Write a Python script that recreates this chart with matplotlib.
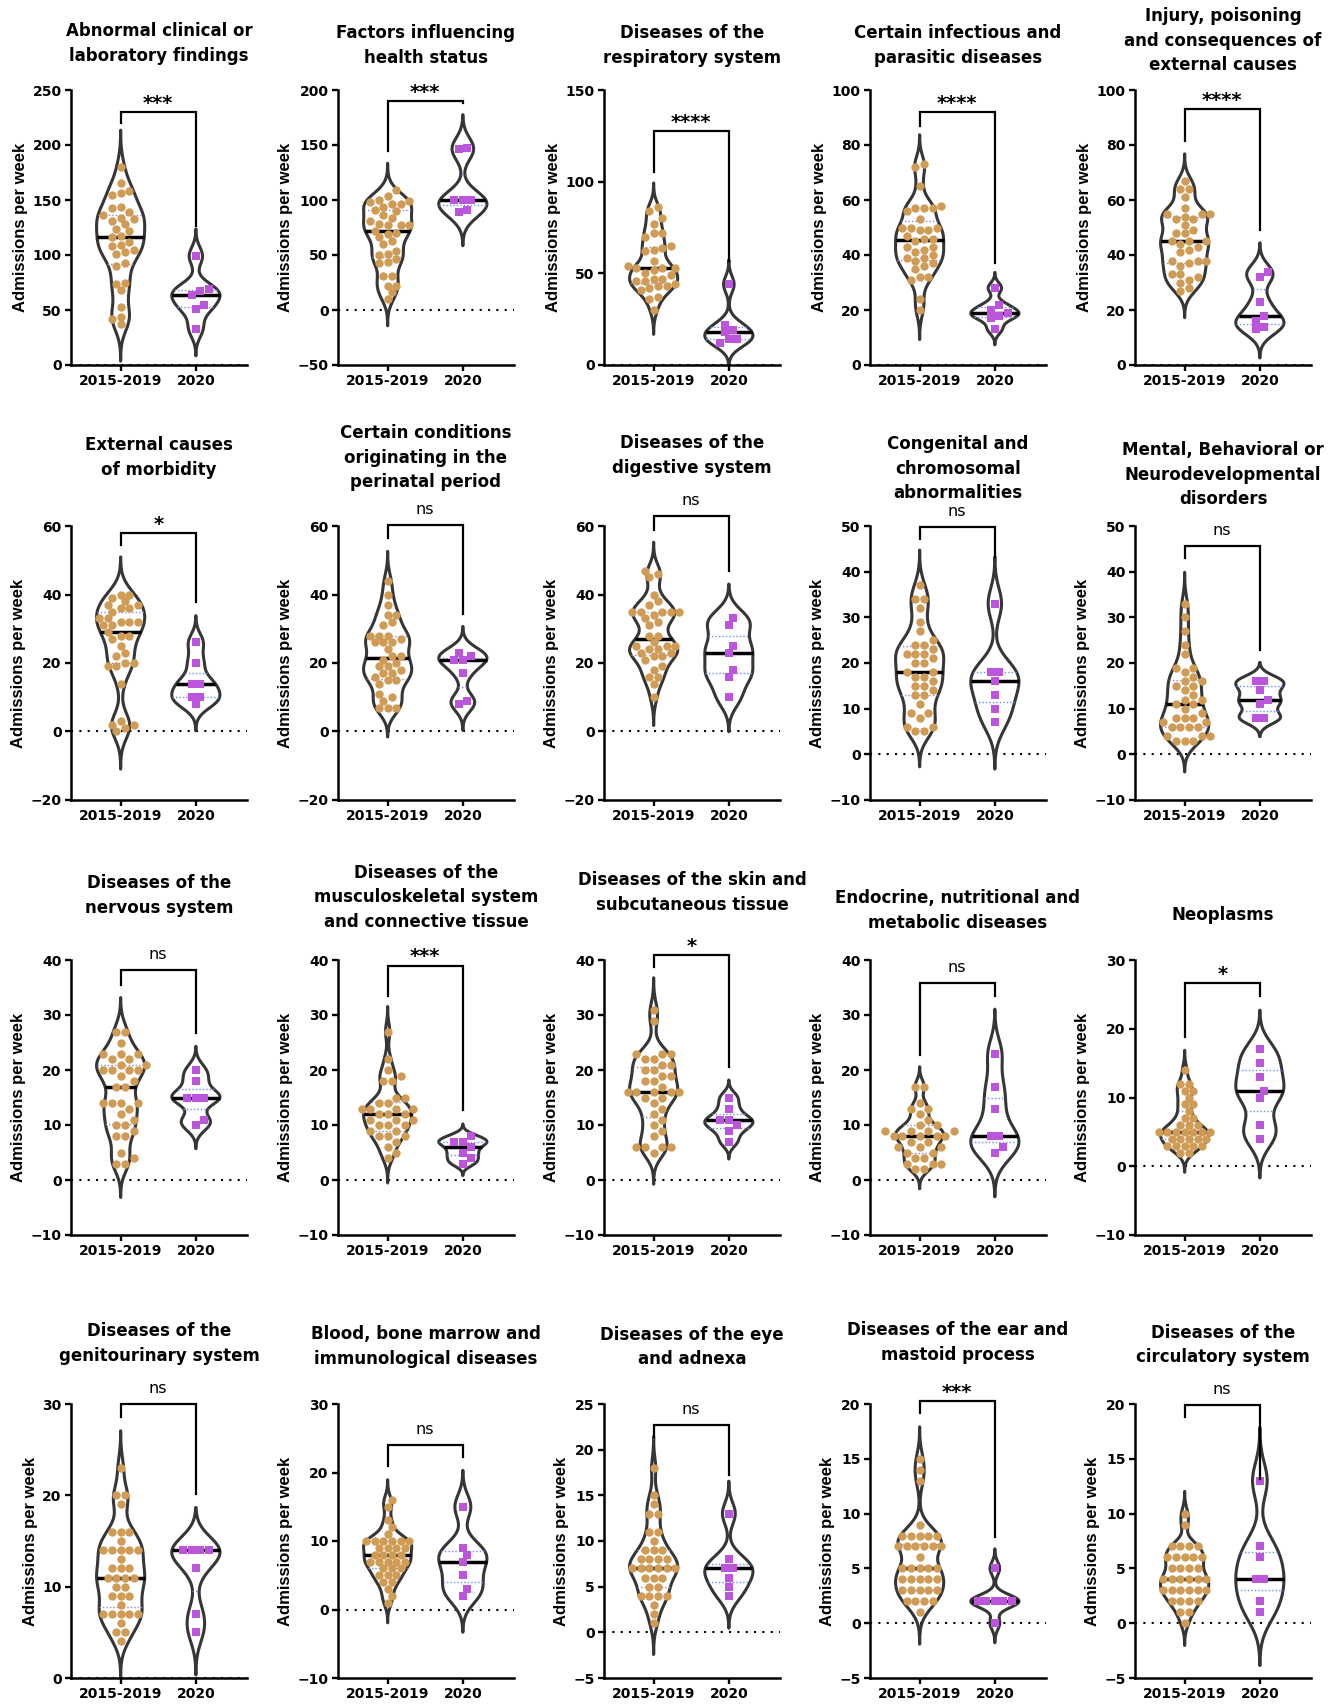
import numpy as np
import matplotlib
matplotlib.use("Agg")
import matplotlib.pyplot as plt
from matplotlib.font_manager import FontProperties

# ---------------- data (admissions per week) ----------------
groups = ["2015-2019", "2020"]

titles = [
    "Abnormal clinical or\nlaboratory findings",
    "Factors influencing\nhealth status",
    "Diseases of the\nrespiratory system",
    "Certain infectious and\nparasitic diseases",
    "Injury, poisoning\nand consequences of\nexternal causes",
    "External causes\nof morbidity",
    "Certain conditions\noriginating in the\nperinatal period",
    "Diseases of the\ndigestive system",
    "Congenital and\nchromosomal\nabnormalities",
    "Mental, Behavioral or\nNeurodevelopmental\ndisorders",
    "Diseases of the\nnervous system",
    "Diseases of the\nmusculoskeletal system\nand connective tissue",
    "Diseases of the skin and\nsubcutaneous tissue",
    "Endocrine, nutritional and\nmetabolic diseases",
    "Neoplasms",
    "Diseases of the\ngenitourinary system",
    "Blood, bone marrow and\nimmunological diseases",
    "Diseases of the eye\nand adnexa",
    "Diseases of the ear and\nmastoid process",
    "Diseases of the\ncirculatory system",
]

significance = ["***", "***", "****", "****", "****",
                "*", "ns", "ns", "ns", "ns",
                "ns", "***", "*", "ns", "*",
                "ns", "ns", "ns", "***", "ns"]

abnormal_1519 = [180, 165, 158, 156, 155, 144, 143, 139, 136, 134, 133, 131, 128, 124, 122, 117,
                 116, 112, 109, 108, 105, 103, 101, 93, 90, 74, 75, 68, 53, 44, 42, 37]
abnormal_2020 = [99, 67, 69, 64, 55, 51, 33]
factors_1519 = [109, 104, 100, 99, 98, 96, 96, 94, 91, 90, 86, 84, 81, 78, 77, 77, 77, 72, 70, 69,
                66, 63, 60, 54, 51, 50, 46, 44, 43, 31, 31, 22, 22, 16, 10]
factors_2020 = [147, 146, 100, 100, 100, 89, 91]
resp_1519 = [86, 84, 80, 77, 72, 72, 70, 65, 64, 63, 62, 57, 54, 53, 53, 53, 52, 50, 49, 47, 46,
             47, 46, 44, 43, 43, 42, 41, 37, 36, 30]
resp_2020 = [44, 19, 14, 22, 18, 14, 12]
infect_1519 = [73, 72, 65, 58, 57, 57, 57, 56, 53, 50, 50, 50, 49, 49, 47, 46, 46, 45, 43, 43, 41,
               42, 40, 39, 39, 38, 37, 36, 35, 32, 32, 31, 24, 20]
infect_2020 = [28, 22, 20, 19, 17, 18, 13]
injury_1519 = [67, 64, 64, 61, 57, 55, 55, 55, 54, 53, 53, 51, 49, 48, 48, 45, 45, 45, 44, 43, 42,
               41, 38, 38, 38, 37, 36, 33, 33, 32, 31, 30, 28, 27]
injury_2020 = [34, 32, 23, 18, 16, 14, 13]
extmorb_1519 = [40, 40, 39, 38, 37, 37, 36, 36, 35, 33, 33, 32, 32, 32, 31, 31, 29, 28, 28, 27, 25,
                23, 22, 20, 20, 19, 19, 14, 3, 2, 2, 1, 0]
extmorb_2020 = [26, 20, 14, 14, 10, 10, 8]
perinatal_1519 = [44, 40, 37, 34, 34, 32, 31, 28, 28, 28, 27, 26, 26, 26, 24, 22, 22, 21, 20, 19,
                  19, 18, 17, 17, 16, 15, 15, 14, 11, 10, 9, 7, 7, 7]
perinatal_2020 = [22, 21, 23, 21, 17, 8, 9]
digest_1519 = [47, 46, 45, 40, 38, 37, 35, 35, 35, 35, 35, 34, 33, 32, 31, 28, 28, 26, 25, 25, 25,
               24, 24, 23, 23, 22, 22, 21, 19, 18, 16, 16, 14, 10]
digest_2020 = [33, 31, 25, 23, 18, 16, 10]
congen_1519 = [37, 34, 34, 32, 29, 27, 25, 24, 24, 23, 22, 22, 22, 21, 20, 20, 18, 18, 17, 17, 16,
               15, 15, 14, 13, 13, 11, 9, 9, 8, 6, 6, 5, 5]
congen_2020 = [33, 18, 18, 16, 13, 10, 7]
mental_1519 = [33, 30, 27, 24, 22, 19, 19, 18, 17, 16, 16, 15, 15, 14, 13, 12, 12, 11, 11, 10, 9,
               8, 8, 8, 7, 7, 6, 6, 6, 6, 4, 4, 4, 3, 3, 3]
mental_2020 = [16, 16, 14, 12, 11, 8, 8]
nervous_1519 = [27, 27, 25, 23, 23, 23, 22, 22, 21, 21, 20, 20, 20, 20, 19, 18, 17, 17, 14, 14, 14,
                14, 13, 12, 11, 10, 10, 9, 8, 8, 5, 4, 3, 3]
nervous_2020 = [20, 18, 15, 15, 15, 11, 10]
musculo_1519 = [27, 22, 20, 19, 18, 18, 15, 15, 14, 14, 13, 13, 13, 13, 12, 12, 12, 11, 11, 11, 10,
                10, 10, 9, 9, 8, 8, 8, 7, 6, 5, 4]
musculo_2020 = [8, 7, 7, 6, 5, 4, 3]
skin_1519 = [31, 29, 23, 23, 23, 22, 22, 21, 21, 20, 20, 19, 19, 18, 18, 17, 16, 16, 16, 16, 16,
             15, 15, 14, 13, 12, 11, 10, 9, 8, 6, 6, 6, 6, 5]
skin_2020 = [15, 13, 11, 11, 10, 9, 7]
endo_1519 = [17, 17, 14, 13, 13, 12, 11, 10, 10, 9, 9, 9, 9, 8, 8, 8, 8, 8, 7, 7, 6, 6, 6, 5, 5,
             4, 4, 3, 3, 3, 2, 2]
endo_2020 = [23, 17, 13, 8, 8, 6, 5]
neo_1519 = [14, 12, 12, 11, 11, 10, 9, 9, 8, 7, 7, 6, 6, 6, 5, 5, 5, 5, 5, 5, 5, 4, 4, 4, 4, 4,
            3, 3, 3, 3, 3, 2, 2]
neo_2020 = [17, 15, 13, 11, 10, 6, 4]
genito_1519 = [23, 20, 20, 19, 16, 16, 16, 15, 14, 14, 14, 14, 14, 13, 12, 12, 12, 11, 11, 11, 11,
               10, 10, 9, 9, 9, 8, 7, 7, 7, 7, 7, 6, 5, 5, 4]
genito_2020 = [14, 14, 14, 14, 12, 7, 5]
blood_1519 = [16, 15, 13, 12, 11, 10, 10, 10, 10, 10, 10, 9, 9, 9, 9, 8, 8, 8, 8, 7, 7, 7, 7, 7,
              6, 6, 6, 5, 5, 5, 4, 4, 3, 2, 1]
blood_2020 = [15, 9, 8, 7, 5, 3, 2]
eye_1519 = [18, 15, 14, 13, 13, 11, 11, 10, 9, 9, 9, 8, 8, 8, 8, 7, 7, 7, 7, 7, 7, 6, 6, 6, 5, 5,
            4, 4, 4, 4, 3, 2, 1]
eye_2020 = [13, 8, 7, 7, 6, 5, 4]
ear_1519 = [15, 14, 13, 9, 8, 8, 8, 8, 8, 7, 7, 7, 7, 7, 7, 6, 5, 5, 5, 5, 5, 4, 4, 4, 4, 4, 3, 3,
            3, 3, 3, 2, 2, 2, 2, 1]
ear_2020 = [5, 2, 2, 2, 2, 2, 0]
circ_1519 = [10, 9, 7, 7, 7, 7, 6, 6, 6, 6, 6, 5, 5, 5, 5, 4, 4, 4, 4, 4, 4, 3, 3, 3, 3, 3, 3, 2,
             2, 2, 2, 1, 1, 0]
circ_2020 = [13, 7, 6, 4, 4, 2, 1]

series = [
    (abnormal_1519, abnormal_2020), (factors_1519, factors_2020), (resp_1519, resp_2020),
    (infect_1519, infect_2020), (injury_1519, injury_2020),
    (extmorb_1519, extmorb_2020), (perinatal_1519, perinatal_2020), (digest_1519, digest_2020),
    (congen_1519, congen_2020), (mental_1519, mental_2020),
    (nervous_1519, nervous_2020), (musculo_1519, musculo_2020), (skin_1519, skin_2020),
    (endo_1519, endo_2020), (neo_1519, neo_2020),
    (genito_1519, genito_2020), (blood_1519, blood_2020), (eye_1519, eye_2020),
    (ear_1519, ear_2020), (circ_1519, circ_2020),
]

# ---------------- layout (pixels) ----------------
W_PX, H_PX = 1339, 1707
col_x = [71, 338, 604, 870, 1135]
row_top = [90, 526, 960, 1404]
row_bot = [365, 800, 1235, 1678]
AX_W = 176
XLIM = (-0.66, 1.68)

yaxes = [(0, 250, 50), (-50, 200, 50), (0, 150, 50), (0, 100, 20), (0, 100, 20),
         (-20, 60, 20), (-20, 60, 20), (-20, 60, 20), (-10, 50, 10), (-10, 50, 10),
         (-10, 40, 10), (-10, 40, 10), (-10, 40, 10), (-10, 40, 10), (-10, 30, 10),
         (0, 30, 10), (-10, 30, 10), (-5, 25, 5), (-5, 20, 5), (-5, 20, 5)]

brackets = [(230, 220, 126), (190, 145, 188), (127.7, 105, 57), (92, 87, 37), (93, 81.5, 49),
            (58, 54.5, 37.8), (60.3, 56.4, 34.3), (62.9, 58.8, 46.8), (49.8, 47.1, 43.2),
            (45.7, 43, 22.8), (38.2, 35.4, 26.7), (39, 33.4, 12.7), (40.9, 38.8, 20.6),
            (35.8, 22.7, 33.5), (26.6, 18.8, 24.7), (30, 28.6, 20.2), (24, 20.9, 22.3),
            (22.7, 21.4, 17.2), (20.3, 19.2, 7.9), (19.9, 18.8, 13.2)]

title_last_center = [55, 57, 57, 57, 64, 469, 481, 467, 492, 498,
                     907, 921, 904, 922, 914, 1355, 1358, 1358, 1354, 1356]

# ---------------- styles ----------------
C_A = "#CF9B55"
C_B = "#BA55DC"
C_OUT = "#363636"
Q_COL = ["#8f86cc", "#6b8cff"]
VW = 0.64
BW_FACTOR = 0.6
EXT = 3.0
DOT_PX = 8.6

TITLE_FONT = dict(family="DejaVu Sans", weight="bold", size=12)
TICK_FP = FontProperties(family="DejaVu Sans", weight="bold", size=10)
YLAB_FONT = dict(family="Liberation Sans", weight="bold", size=12)

fig = plt.figure(figsize=(W_PX / 100, H_PX / 100), dpi=100)


def kde_stats(d):
    d = np.asarray(d, float)
    n = len(d)
    bw = BW_FACTOR * d.std(ddof=1) * n ** (-0.2)
    lo, hi = d.min() - EXT * bw, d.max() + EXT * bw
    coords = np.linspace(lo, hi, 500)
    vals = np.exp(-0.5 * ((coords[:, None] - d[None, :]) / bw) ** 2).sum(1)
    vals /= n * bw * np.sqrt(2 * np.pi)
    return dict(coords=coords, vals=vals, mean=d.mean(), median=np.median(d),
                min=lo, max=hi, quantiles=[])


def half_width(st, y):
    return 0.5 * VW * np.interp(y, st["coords"], st["vals"]) / st["vals"].max()


def swarm_offsets(vals, ypx, xpx):
    """Beeswarm layout: equal values centred side by side; crowded points placed one by one."""
    D = DOT_PX
    vals = np.asarray(vals, float)
    order = np.argsort(vals, kind="stable")
    rows, cur = [], [order[0]]
    for idx in order[1:]:
        if (vals[idx] - vals[cur[0]]) * ypx < 0.45 * D:
            cur.append(idx)
        else:
            rows.append(cur)
            cur = [idx]
    rows.append(cur)
    grid = [0.0]
    for k in range(1, 24):
        grid += [k * D / 2, -k * D / 2]
    px, py = [], []
    offs = np.zeros(len(vals))

    def fits(xs, ys, lim):
        if not px:
            return True
        dist = np.hypot(np.asarray(xs)[:, None] - np.array(px)[None, :],
                        np.asarray(ys)[:, None] - np.array(py)[None, :])
        return bool((dist >= lim * D).all())

    for r in rows:
        m = len(r)
        base = (np.arange(m) - (m - 1) / 2) * D
        ys = vals[r] * ypx
        done = False
        for s in (0.0, D / 2, -D / 2):
            if fits(base + s, ys, 0.85):
                xs = base + s
                done = True
                break
        if not done:
            xs = np.zeros(m)
            tmp_x, tmp_y = [], []
            for k in range(m):
                for g in grid:
                    ok = fits([g], [ys[k]], 0.9)
                    if ok and tmp_x:
                        ok = bool((np.hypot(np.array(tmp_x) - g,
                                            np.array(tmp_y) - ys[k]) >= 0.9 * D).all())
                    if ok:
                        xs[k] = g
                        tmp_x.append(g)
                        tmp_y.append(ys[k])
                        break
        for k, idx in enumerate(r):
            offs[idx] = xs[k] / xpx
            px.append(xs[k])
            py.append(ys[k])
    return offs


for i in range(20):
    r, c = divmod(i, 5)
    left = col_x[c]
    top, bot = row_top[r], row_bot[r]
    ax = fig.add_axes([left / W_PX, 1 - bot / H_PX, AX_W / W_PX, (bot - top) / H_PX])
    y0, y1, ys = yaxes[i]
    ax.set_xlim(*XLIM)
    ax.set_ylim(y0, y1)
    ax.set_yticks(np.arange(y0, y1 + ys / 2, ys))
    ax.set_xticks([0, 1])
    ax.set_xticklabels(groups)
    for lab in ax.get_xticklabels() + ax.get_yticklabels():
        lab.set_fontproperties(TICK_FP)
    for s in ["top", "right"]:
        ax.spines[s].set_visible(False)
    for s in ["left", "bottom"]:
        ax.spines[s].set_linewidth(1.8)
        ax.spines[s].set_color("black")
    ax.tick_params(axis="both", length=4.3, width=1.7, color="black", pad=2.5)
    ax.set_ylabel("Admissions per week", labelpad=3, **YLAB_FONT)
    ax.patch.set_alpha(0)

    ax.axhline(0, color="black", lw=1.5, ls=(0, (1, 3)), zorder=0.5)

    a, b = series[i]
    stats = [kde_stats(a), kde_stats(b)]
    parts = ax.violin(stats, positions=[0, 1], widths=VW, showmeans=False,
                      showextrema=False, showmedians=False)
    for body in parts["bodies"]:
        body.set_facecolor("none")
        body.set_edgecolor(C_OUT)
        body.set_linewidth(2.2)
        body.set_alpha(1)
        body.set_zorder(2)

    ypx = (bot - top) / (y1 - y0)
    xpx = AX_W / (XLIM[1] - XLIM[0])
    for g, (d, st) in enumerate(zip((a, b), stats)):
        q1, med, q3 = np.percentile(d, [25, 50, 75])
        for q in (q1, q3):
            hw = half_width(st, q)
            ax.hlines(q, g - hw, g + hw, colors=Q_COL[g], lw=1.0,
                      linestyles=(0, (1, 1.5)), zorder=3)
        hw = half_width(st, med)
        ax.hlines(med, g - hw, g + hw, colors="black", lw=2.5, zorder=3)
        offs = swarm_offsets(d, ypx, xpx)
        ax.scatter(g + offs, d, s=36 if g == 0 else 32, marker="o" if g == 0 else "s",
                   color=C_A if g == 0 else C_B, linewidths=0, zorder=4)

    bt, bl, br = brackets[i]
    ax.plot([0, 0, 1, 1], [bl, bt, bt, br], color="black", lw=1.6, clip_on=False,
            solid_joinstyle="miter", zorder=5)
    txt = significance[i]
    if txt == "ns":
        ax.annotate(txt, xy=(0.5, bt), xytext=(0, 8), textcoords="offset points",
                    ha="center", va="baseline", fontsize=11.5, family="DejaVu Sans",
                    annotation_clip=False)
    else:
        ax.annotate(txt, xy=(0.5, bt), xytext=(0, 2.2), textcoords="offset points",
                    ha="center", va="baseline", fontsize=14, weight="bold",
                    family="DejaVu Sans", annotation_clip=False)

    ybottom = title_last_center[i] + 9.8
    fig.text((left + AX_W / 2) / W_PX, 1 - ybottom / H_PX, titles[i], ha="center",
             va="bottom", multialignment="center", linespacing=1.45, **TITLE_FONT)

fig.savefig("out.png", dpi=100)
